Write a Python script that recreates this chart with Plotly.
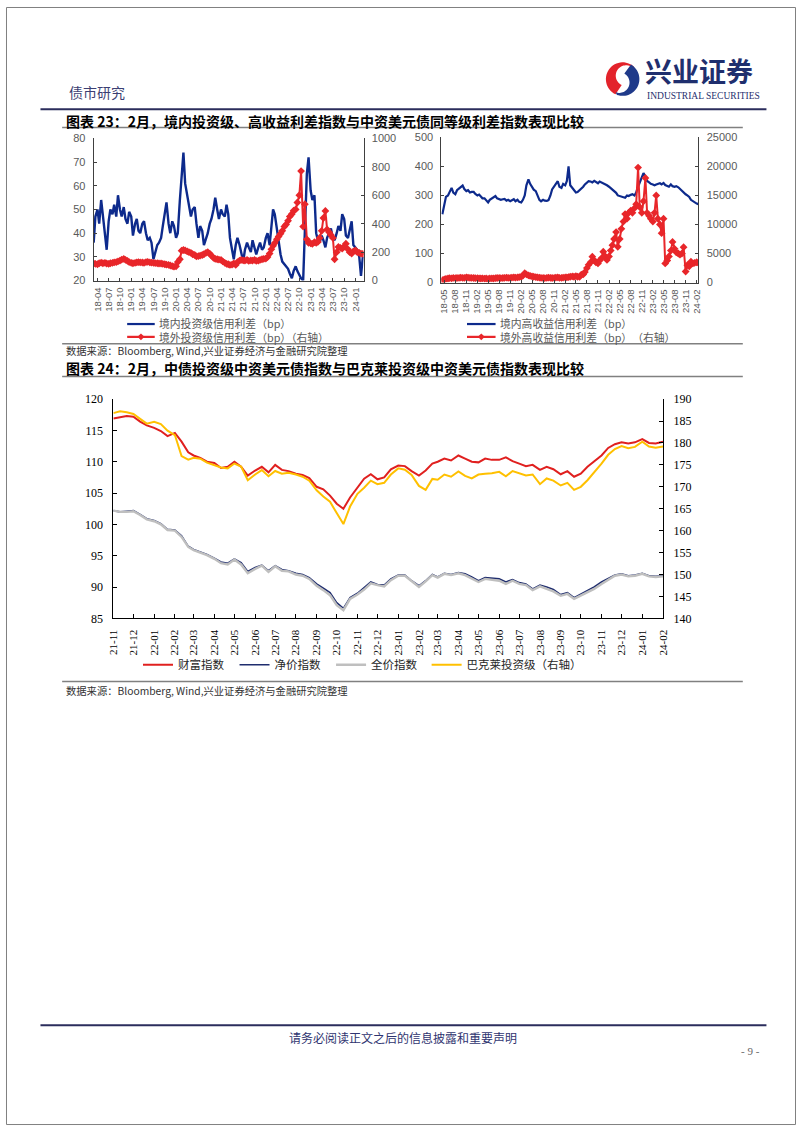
import math
import pandas as pd
import plotly.graph_objects as go

W, H = 802, 1133
def px(x): return x / W
def py(y): return 1 - y / H

# ---------------- Chart 23 (left): investment-grade spreads ----------------
ig_dates = pd.date_range("2018-03-01", "2024-03-01", freq="SMS")
ig_onshore = [
    36,47,50,44,54,47,40,33,45,50,
    48,52,47,56,50,47,51,46,44,49,
    47,39,44,46,41,40,44,45,40,37,
    38,36,29,32,35,36,38,43,48,53,
    44,40,45,43,38,40,54,66,74,61,
    56,52,47,50,51,44,38,43,41,35,
    38,40,44,46,50,55,50,46,50,48,
    47,
    52,48,38,33,29,35,38,35,31,28,
    33,36,34,32,37,34,31,34,36,33,
    34,38,40,35,42,50,48,42,36,31,
    28,27,26,25,23,21,24,26,24,22,
    21,20,38,65,72,58,54,56,40,37,
    36,39,37,34,38,40,42,38,37,40,
    43,41,48,46,39,38,41,45,35,34,
    33,30,22,
    30,
]
ig_offshore = [
    120,118, 115,122, 126,122, 125,120, 118,122, 125,128, 130,135, 140,148, 152,146, 138,130,
    125,122, 125,128, 130,128, 127,125, 130,132, 128,126, 125,123, 122,120, 120,118, 115,112, 110,106, 102,98,
    100,130, 150,210, 215,212, 205,200, 195,185, 180,170, 172,175, 180,185, 195,200, 190,175, 160,152, 150,148,
    145,135, 125,118, 115,110, 112,120, 110,130, 140,145, 142,140, 145,138, 142,140, 145,138, 140,145, 150,152,
    155,165, 190,220, 245,265, 290,310, 330,350, 380,395, 420,450, 468,491, 500,549, 600,770, 380,537, 290,265,
    262,258, 270,265, 272,300, 350,440, 490,360, 340,320, 300,150, 200,236, 230,224, 240,259, 220,200, 190,205,
    213,200, 195,190,
    188,
]

# ---------------- Chart 23 (right): high-yield spreads ----------------
hy_dates = pd.date_range("2018-04-15", "2024-02-15", freq="SMS")
hy_onshore = [
    235,
    270,295, 300,315, 326,310, 304,318, 325,330, 334,322, 315,318, 310,312,
    312,305, 300,303, 295,290, 290,283, 276,285, 290,292, 298,290, 288,285, 287,288, 282,285, 280,284, 287,280,
    285,278, 276,285, 300,335, 355,340, 330,320, 315,300, 285,280, 285,282, 281,284, 300,321, 330,340, 349,330,
    326,340, 335,350, 400,335, 325,315, 310,312, 318,325, 330,338, 345,349, 348,345, 350,345, 342,348, 345,343,
    340,335, 330,325, 318,312, 309,300, 298,295, 293,292, 300,298, 302,304, 300,310, 330,345, 360,377, 365,350,
    345,340, 338,335, 338,340, 342,338, 343,336, 333,330, 338,332, 330,332, 328,322, 315,308, 304,300, 295,285,
    280,276,
    272,270,
]
hy_offshore = [
    400,
    550,650, 700,750, 720,800, 750,780, 800,850, 820,800, 900,850, 820,800,
    780,760, 750,720, 700,720, 680,700, 650,700, 720,700, 750,780, 800,760, 780,820, 850,800, 820,860, 900,850,
    880,950, 1000,1200, 1600,1400, 1250,1150, 1050,1000, 950,900, 850,800, 780,760, 800,850, 820,780, 800,850, 900,820,
    800,850, 880,900, 950,1000, 1050,1000, 1100,1000, 1000,1350, 1400,1800, 2500,3050, 3500,4460, 3800,3500, 3300,3800, 4200,5300,
    4500,3900, 4500,5500, 6440,7500, 8700,6150, 7500,9250, 10500,11800, 11000,12000, 12400,12000, 12800,13500, 19800,13000, 12000,14000, 18000,12000,
    11500,11000, 10500,12000, 15000,11000, 10000,8500, 11000,3300, 3800,4500, 5500,7000, 5800,5200, 5000,4800, 5000,6100, 1900,3000, 2800,3600,
    3300,3400,
    3500,3400,
]

# ---------------- Chart 24: USD bond indices ----------------
idx_months = pd.date_range("2021-11-01", "2024-01-01", freq="MS")
idx_dates = [m + pd.Timedelta(days=d) for m in idx_months for d in (0, 10, 20)] + [pd.Timestamp("2024-02-01")]
wealth = [
    116.9,117.1,117.3,117.2,116.4,115.8,115.4,114.9,114.1,114.6,
    113.2,111.5,111.0,110.6,110.0,109.8,109.0,109.2,110.0,109.2,
    107.8,108.6,109.2,108.3,109.5,108.7,108.5,108.1,107.9,107.4,
    106.0,105.6,104.6,103.3,102.5,104.3,105.8,107.3,108.0,107.2,
    107.5,108.8,109.4,109.3,108.5,107.8,108.6,109.7,110.0,110.5,
    110.2,111.0,110.5,110.0,109.9,110.5,110.3,110.3,110.7,110.1,
    109.7,109.3,109.5,108.7,109.2,108.8,108.0,108.5,107.6,108.1,
    109.2,110.0,111.0,112.2,112.8,113.1,112.9,113.1,113.6,113.0,
    112.9,113.2,
]
net_price = [
    102.2,102.0,102.1,102.2,101.6,100.9,100.6,100.1,99.2,99.1,
    98.2,96.5,96.0,95.6,95.2,94.6,94.0,93.8,94.5,93.9,
    92.5,93.1,93.5,92.6,93.4,92.8,92.6,92.2,92.0,91.5,
    90.5,89.8,89.1,87.5,86.6,88.3,89.0,89.9,90.8,90.4,
    90.3,91.3,91.9,91.9,91.0,90.2,91.0,92.0,91.6,92.2,
    92.0,92.3,92.1,91.6,91.0,91.5,91.4,91.3,90.8,91.2,
    90.7,90.5,89.7,90.3,90.0,89.6,88.8,89.1,88.3,88.9,
    89.4,90.0,90.8,91.4,91.9,92.1,91.8,91.9,92.2,91.8,
    91.7,91.8,
]
full_price = [
    102.2,102.0,102.0,102.1,101.5,100.8,100.5,100.0,99.1,99.0,
    98.0,96.4,95.9,95.5,95.1,94.5,93.8,93.6,94.4,93.6,
    92.2,92.9,93.4,92.4,93.3,92.6,92.5,92.0,91.8,91.3,
    90.2,89.5,88.7,87.1,86.3,88.1,88.8,89.6,90.6,90.3,
    90.1,91.1,91.8,91.8,90.9,90.0,90.9,91.9,91.5,92.1,
    91.9,92.2,91.9,91.4,90.8,91.3,91.2,91.0,90.5,91.0,
    90.5,90.3,89.5,90.1,89.7,89.3,88.6,88.9,88.1,88.6,
    89.1,89.7,90.5,91.2,91.8,92.0,91.7,91.8,92.1,91.7,
    91.6,91.7,
]
barclays = [
    186.8,187.2,187.0,186.6,185.5,184.4,184.8,184.3,182.8,181.8,
    177.0,176.2,176.6,176.4,175.5,175.0,174.4,174.2,175.3,174.6,
    171.5,172.8,173.8,172.4,173.6,173.0,173.2,172.8,172.3,171.4,
    169.2,167.8,166.6,164.0,161.5,165.5,168.4,169.8,171.4,170.6,
    170.9,172.8,174.2,173.9,172.7,170.2,169.3,171.8,171.6,172.8,
    172.3,173.5,172.5,171.9,172.8,173.0,173.1,173.4,172.4,173.6,
    173.1,172.6,172.8,170.6,171.9,171.4,170.3,170.9,169.3,170.0,
    171.5,173.2,175.3,177.3,178.6,179.3,178.8,179.1,180.3,179.2,
    178.9,179.2,
]

assert len(ig_onshore) == len(ig_dates) == len(ig_offshore)
assert len(hy_onshore) == len(hy_dates) == len(hy_offshore)
assert len(idx_dates) == len(wealth) == len(net_price) == len(full_price) == len(barclays)

# ---------------- Styling constants ----------------
NAVY = "#0d2a8c"
RED = "#e8262a"
CJK = "Noto Sans CJK SC"
SANS = "Liberation Sans"
SERIF = "Liberation Serif"
GREY_TXT = "#595959"

fig = go.Figure()

# Chart 23 left
fig.add_trace(go.Scatter(x=ig_dates, y=ig_onshore, mode="lines", name="境内投资级信用利差（bp）",
                         line=dict(color=NAVY, width=2.4), xaxis="x", yaxis="y", showlegend=False))
fig.add_trace(go.Scatter(x=ig_dates, y=ig_offshore, mode="lines+markers", name="境外投资级信用利差（bp）（右轴）",
                         line=dict(color=RED, width=2), marker=dict(symbol="diamond", size=6, color=RED),
                         xaxis="x", yaxis="y2", showlegend=False))
# Chart 23 right
fig.add_trace(go.Scatter(x=hy_dates, y=hy_onshore, mode="lines", name="境内高收益信用利差（bp）",
                         line=dict(color=NAVY, width=2.2), xaxis="x2", yaxis="y3", showlegend=False))
fig.add_trace(go.Scatter(x=hy_dates, y=hy_offshore, mode="lines+markers", name="境外高收益信用利差（bp）　（右轴）",
                         line=dict(color=RED, width=2), marker=dict(symbol="diamond", size=6, color=RED),
                         xaxis="x2", yaxis="y4", showlegend=False))
# Chart 24
fig.add_trace(go.Scatter(x=idx_dates, y=wealth, mode="lines", name="财富指数",
                         line=dict(color="#e0201f", width=2), xaxis="x3", yaxis="y5", legend="legend"))
fig.add_trace(go.Scatter(x=idx_dates, y=net_price, mode="lines", name="净价指数",
                         line=dict(color="#1f2d6e", width=1.6), xaxis="x3", yaxis="y5", legend="legend2"))
fig.add_trace(go.Scatter(x=idx_dates, y=full_price, mode="lines", name="全价指数",
                         line=dict(color="#bfbfbf", width=2.4), xaxis="x3", yaxis="y5", legend="legend3"))
fig.add_trace(go.Scatter(x=idx_dates, y=barclays, mode="lines", name="巴克莱投资级（右轴）",
                         line=dict(color="#ffc000", width=2), xaxis="x3", yaxis="y6", legend="legend4"))

axis23 = dict(showgrid=False, zeroline=False, showline=True, linecolor="#404040", linewidth=1,
              ticks="inside", ticklen=3, tickcolor="#404040")
axis24 = dict(showgrid=False, zeroline=False, showline=True, linecolor="#000000", linewidth=1,
              ticks="inside", ticklen=4, tickcolor="#000000")

def leg(x, y, size=11.5, color="#262626"):
    return dict(x=px(x), y=py(y), xanchor="left", yanchor="middle", bgcolor="rgba(0,0,0,0)",
                font=dict(family=CJK, size=size, color=color), itemwidth=30, borderwidth=0,
                orientation="h")

fig.update_layout(
    width=W, height=H, margin=dict(l=0, r=0, t=0, b=0),
    paper_bgcolor="white", plot_bgcolor="white", showlegend=True,
    xaxis=dict(axis23, domain=[px(89), px(363)], anchor="y", type="date",
               range=["2018-03-01", "2024-03-07"], tick0="2018-04-01", dtick="M3", tickformat="%y-%m",
               tickangle=-90, tickfont=dict(family=SANS, size=9.5, color=GREY_TXT), ticklabelstandoff=2),
    yaxis=dict(axis23, domain=[py(277), py(133)], anchor="x", range=[20, 80], dtick=10,
               tickfont=dict(family=SANS, size=11, color=GREY_TXT), ticklabelstandoff=5),
    yaxis2=dict(axis23, overlaying="y", side="right", anchor="x", range=[0, 1000], dtick=200,
                tickfont=dict(family=SANS, size=11, color=GREY_TXT), ticklabelstandoff=5),
    xaxis2=dict(axis23, domain=[px(442), px(703)], anchor="y3", type="date",
                range=["2018-04-07", "2024-02-16"], tick0="2018-05-01", dtick="M3", tickformat="%y-%m",
                tickangle=-90, tickfont=dict(family=SANS, size=9.5, color=GREY_TXT), ticklabelstandoff=2),
    yaxis3=dict(axis23, domain=[py(279), py(132)], anchor="x2", range=[0, 500], dtick=100,
                tickfont=dict(family=SANS, size=11, color=GREY_TXT), ticklabelstandoff=5),
    yaxis4=dict(axis23, overlaying="y3", side="right", anchor="x2", range=[0, 25000], dtick=5000,
                tickformat="d", tickfont=dict(family=SANS, size=11, color=GREY_TXT), ticklabelstandoff=5),
    xaxis3=dict(axis24, domain=[px(109), px(667)], anchor="y5", type="date",
                range=["2021-11-01", "2024-02-01"], tick0="2021-11-01", dtick="M1", tickformat="%y-%m",
                tickangle=-90, tickfont=dict(family=SERIF, size=11, color="#000"), ticklabelstandoff=6),
    yaxis5=dict(axis24, domain=[py(619), py(397)], anchor="x3", range=[85, 120], dtick=5,
                tickfont=dict(family=SERIF, size=12, color="#000"), ticklabelstandoff=7),
    yaxis6=dict(axis24, overlaying="y5", side="right", anchor="x3", range=[140, 190], dtick=5,
                tickfont=dict(family=SERIF, size=12, color="#000"), ticklabelstandoff=7),
    legend=leg(134, 666),
    legend2=leg(232, 666),
    legend3=leg(330, 666),
    legend4=leg(427, 666),
)

# ---------------- Page decorations ----------------
shapes = []
def hline(x0, x1, y, color, width):
    shapes.append(dict(type="line", xref="paper", yref="paper", x0=px(x0), x1=px(x1), y0=py(y), y1=py(y),
                       line=dict(color=color, width=width)))

hline(35, 772, 103.5, "#2b2d5c", 2)
hline(57, 748, 122, "#808080", 1.5)
hline(57, 748, 341, "#808080", 1.5)
hline(57, 748, 374, "#808080", 1.5)
hline(57, 748, 683, "#808080", 1.5)
hline(35, 772, 1031, "#2b2d5c", 2)
shapes.append(dict(type="rect", xref="paper", yref="paper", x0=px(0.5), x1=px(801.5), y0=py(0.5), y1=py(1131.5),
                   line=dict(color="#808080", width=1)))

# legend keys for chart 23 (drawn as page decoration)
def key(x0, x1, y, color, marker):
    hline(x0, x1, y, color, 2.2)
    if marker:
        cx, s = (x0 + x1) / 2, 3.5
        path = (f"M {px(cx):.5f},{py(y - s):.5f} L {px(cx + s):.5f},{py(y):.5f} "
                f"L {px(cx):.5f},{py(y + s):.5f} L {px(cx - s):.5f},{py(y):.5f} Z")
        shapes.append(dict(type="path", xref="paper", yref="paper", path=path, fillcolor=color,
                           line=dict(width=0)))

key(123, 151, 321, NAVY, False)
key(123, 151, 334, RED, True)
key(468, 497, 321, NAVY, False)
key(468, 497, 334, RED, True)

def crescent(cx, cy, r, a0, a1, icx, icy, ir, color):
    n = 30
    pts = []
    for k in range(n + 1):
        a = math.radians(a0 + (a1 - a0) * k / n)
        pts.append((cx + r * math.cos(a), cy - r * math.sin(a)))
    for k in range(n + 1):
        a = math.radians(a1 + (a0 - a1) * k / n)
        pts.append((icx + ir * math.cos(a), icy - ir * math.sin(a)))
    path = "M " + " L ".join(f"{px(x):.5f},{py(y):.5f}" for x, y in pts) + " Z"
    shapes.append(dict(type="path", xref="paper", yref="paper", path=path, fillcolor=color,
                       line=dict(width=0)))

crescent(626, 73, 17, 45, 245, 629.5, 69.5, 10.5, "#e3232b")
crescent(626, 73, 17, 250, 420, 622.5, 76.5, 10.5, "#1f3a8a")
fig.update_layout(shapes=shapes)

ann = []
def text(x, y, s, size, color, family=CJK, xanchor="left"):
    ann.append(dict(x=px(x), y=py(y), xref="paper", yref="paper", text=s, showarrow=False, align="left",
                    xanchor=xanchor, yanchor="middle", font=dict(family=family, size=size, color=color)))

text(62, 86, "债市研究", 14, "#3c3f73")
text(647, 64, "<b>兴业证券</b>", 27, "#1f2f6e")
text(649, 90.5, "INDUSTRIAL SECURITIES", 9.5, "#1f2f6e", family=SERIF)
text(59, 115, "<b>图表 23：2月，境内投资级、高收益利差指数与中资美元债同等级利差指数表现比较</b>", 14, "#000")
text(153, 327.5, "境内投资级信用利差（bp）<br>境外投资级信用利差（bp）（右轴）", 10.8, GREY_TXT)
text(499, 327.5, "境内高收益信用利差（bp）<br>境外高收益信用利差（bp）　（右轴）", 10.8, GREY_TXT)
text(59, 348, "数据来源：Bloomberg, Wind,兴业证券经济与金融研究院整理", 10.3, "#333")
text(59, 366, "<b>图表 24：2月，中债投资级中资美元债指数与巴克莱投资级中资美元债指数表现比较</b>", 14, "#000")
text(59, 692, "数据来源：Bloomberg, Wind,兴业证券经济与金融研究院整理", 10.3, "#333")
text(403, 1043, "请务必阅读正文之后的信息披露和重要声明", 12, "#2f3470", xanchor="center")
text(756, 1057, "- 9 -", 11, "#666", family=SERIF, xanchor="center")
fig.update_layout(annotations=ann)

fig.write_html("out.html", config={"displayModeBar": False},
               post_script="document.body.style.margin='0px';document.body.style.overflow='hidden';")
